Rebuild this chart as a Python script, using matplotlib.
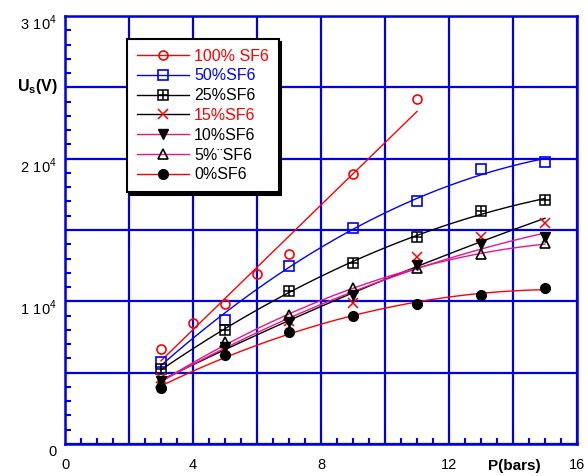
import numpy as np
import matplotlib
matplotlib.use("Agg")
import matplotlib.pyplot as plt
from matplotlib.lines import Line2D
from matplotlib.legend_handler import HandlerTuple
from matplotlib.transforms import ScaledTranslation

plt.rcParams['font.family'] = ['Liberation Sans', 'DejaVu Sans']
plt.rcParams['mathtext.fontset'] = 'custom'
plt.rcParams['mathtext.rm'] = 'Liberation Sans'
plt.rcParams['mathtext.bf'] = 'Liberation Sans:bold'

# Breakdown voltage vs pressure for SF6 mixtures
p_main = [3, 5, 7, 9, 11, 13, 15]
p_100 = [3, 4, 5, 6, 7, 9, 11]
u_100 = [6640, 8500, 9790, 11920, 13320, 18900, 24180]
u_50 = [5770, 8720, 12480, 15170, 17030, 19270, 19790]
u_25 = [5230, 7990, 10750, 12710, 14490, 16350, 17100]
u_15 = [4650, 6500, 8650, 9900, 13090, 14530, 15470]
u_10 = [4450, 6820, 8570, 10440, 12550, 14000, 14530]
u_5 = [4250, 7170, 9040, 10910, 12310, 13300, 14070]
u_0 = [3900, 6240, 7870, 8970, 9790, 10440, 10960]

labels = ['100% SF6', '50%SF6', '25%SF6', '15%SF6', '10%SF6', '5%¨SF6', '0%SF6']
label_colors = ['#ff0000', '#0000ff', 'black', '#ff0000', 'black', 'black', 'black']

x_ticks = [0, 2, 4, 6, 8, 10, 12, 14, 16]
x_ticklabels = ['0', '', '4', '', '8', '', '12', '', '16']
y_ticks = [0, 5000, 10000, 15000, 20000, 25000, 30000]
y_ticklabels = ['0', '', r'$1\ 10^4$', '', r'$2\ 10^4$', '', r'$3\ 10^4$']

RED = '#ff0000'
BLUE = '#0000ff'
PINK = '#e8168c'
GRID = '#0000e6'

W, H = 588, 476
fig = plt.figure(figsize=(W / 100, H / 100), dpi=100)
ax = fig.add_axes([65 / W, 32 / H, 512 / W, 428 / H])

ax.set_xlim(0, 16)
ax.set_ylim(0, 30000)
ax.set_xticks(x_ticks)
ax.set_xticklabels(x_ticklabels)
ax.set_yticks(y_ticks)
ax.set_yticklabels(y_ticklabels)
ax.set_xticks(np.arange(0, 16.01, 0.5), minor=True)
ax.set_yticks(np.arange(0, 30001, 1000), minor=True)
ax.tick_params(which='major', length=0, labelsize=10.5, pad=10)
ax.tick_params(axis='y', which='major', pad=6)
ax.tick_params(which='minor', direction='in', length=4, width=1.5, color=GRID)
ax.grid(True, which='major', color=GRID, linewidth=1.6)
for sp in ax.spines.values():
    sp.set_color(GRID)
    sp.set_linewidth(1.8)
for lab in ax.get_yticklabels():
    lab.set_transform(lab.get_transform() + ScaledTranslation(0, -6 / 100, fig.dpi_scale_trans))
ax.set_axisbelow(True)


def fit_curve(x, y, deg):
    coef = np.polyfit(x, y, deg)
    xs = np.linspace(min(x), max(x), 200)
    return xs, np.polyval(coef, xs)


series = [
    (p_100, u_100, 1, RED, dict(marker='o', mfc='none', mec=RED, ms=6.5, mew=1.2)),
    (p_main, u_50, 2, BLUE, dict(marker='s', mfc='none', mec=BLUE, ms=7, mew=1.2)),
    (p_main, u_25, 2, 'black', dict(marker='s', mfc='none', mec='black', ms=7, mew=1.1)),
    (p_main, u_15, 2, 'black', dict(marker='x', mfc='none', mec=RED, ms=7, mew=1.1)),
    (p_main, u_10, 2, PINK, dict(marker='v', mfc='black', mec='black', ms=7)),
    (p_main, u_5, 2, PINK, dict(marker='^', mfc='none', mec='black', ms=7, mew=1.2)),
    (p_main, u_0, 2, RED, dict(marker='o', mfc='black', mec='black', ms=7)),
]

handles = []
for x, y, deg, lc, mk in series:
    xs, ys = fit_curve(x, y, deg)
    ax.plot(xs, ys, color=lc, lw=1.0, zorder=3)
    ax.plot(x, y, ls='none', zorder=4, **mk)
    h = Line2D([], [], color=lc, lw=1.0, **mk)
    handles.append(h)

# grid-square marker: open square with a cross inside
plus = dict(ls='none', marker='+', ms=7, mec='black', mew=1.1)
ax.plot(p_main, u_25, zorder=4, **plus)
handles[2] = (handles[2], Line2D([], [], **plus))

leg = ax.legend(handles, labels, loc='upper left',
                bbox_to_anchor=(127 / W, 1 - 39 / H), bbox_transform=fig.transFigure,
                borderaxespad=0, fontsize=11.5, handlelength=3.3, handletextpad=0.3,
                labelspacing=0.3, borderpad=0.6, fancybox=False, framealpha=1,
                edgecolor='black', shadow={'color': 'black', 'alpha': 1},
                handler_map={tuple: HandlerTuple(ndivide=1)})
leg.get_frame().set_linewidth(1.5)
for t, c in zip(leg.get_texts(), label_colors):
    t.set_color(c)

fig.text(17 / W, 1 - 86 / H, r'$\mathbf{U_s}$(V)', fontsize=11.5, fontweight='bold',
         va='center', ha='left')
fig.text(514 / W, 1 - 466 / H, 'P(bars)', fontsize=11, fontweight='bold',
         va='center', ha='center')

fig.savefig('out.png', dpi=100)
